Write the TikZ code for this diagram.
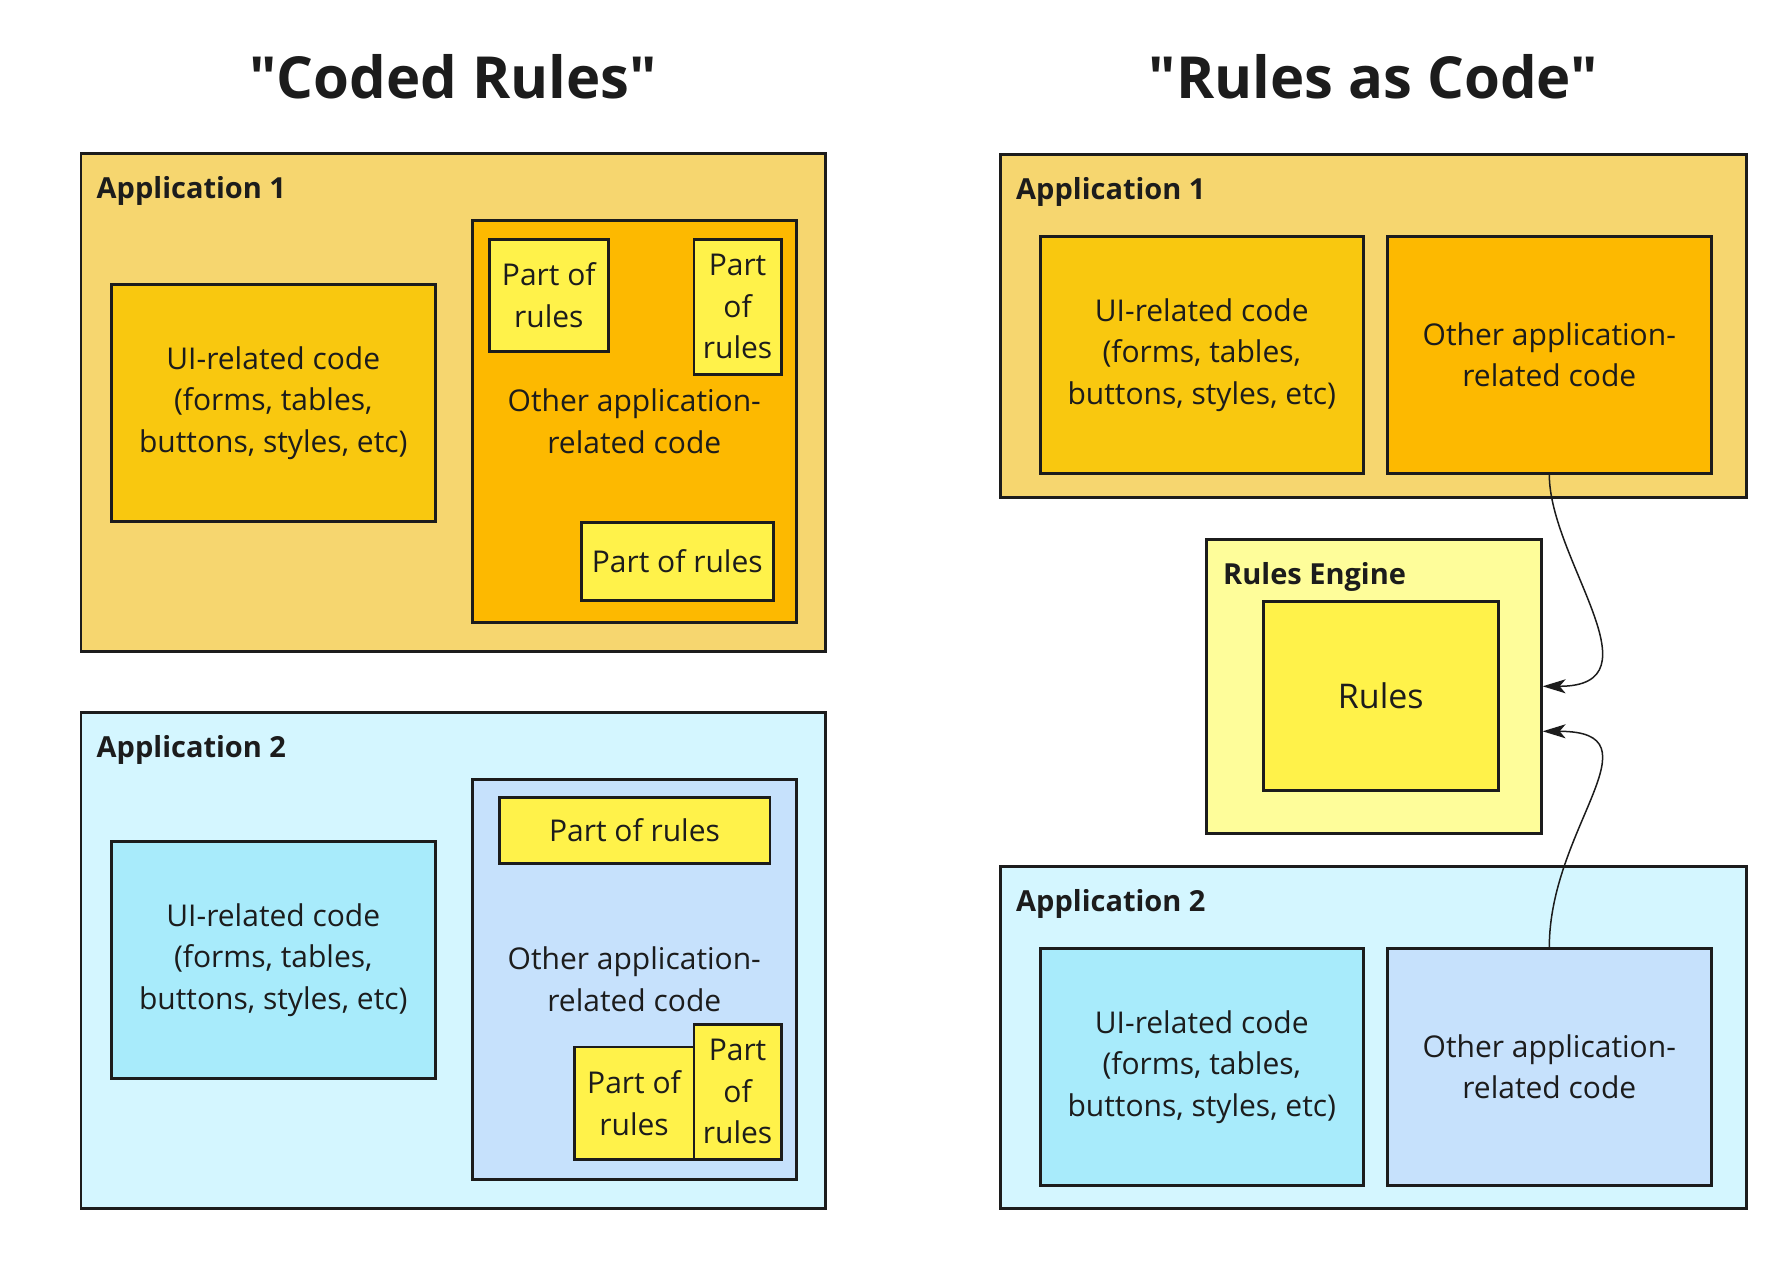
\documentclass[tikz,border=0pt]{standalone}
\usepackage{fontspec}
\setmainfont{Open Sans}[Ligatures=TeXOff]
\usetikzlibrary{arrows.meta}
\definecolor{appyellow}{HTML}{F6D66F}
\definecolor{uiyellow}{HTML}{F9C80F}
\definecolor{otherorange}{HTML}{FDB900}
\definecolor{ruleyellow}{HTML}{FFF24A}
\definecolor{engineyellow}{HTML}{FEFD9A}
\definecolor{appblue}{HTML}{D4F6FF}
\definecolor{uiblue}{HTML}{A8EBFB}
\definecolor{otherblue}{HTML}{C6E1FC}
\definecolor{ink}{HTML}{1C1C1C}

\begin{document}
\begin{tikzpicture}[x=1pt, y=-1pt,
    frame/.style={draw=ink, line width=2.6pt, inner sep=0pt, anchor=north west},
    box/.style={draw=ink, line width=2.6pt, inner sep=0pt, anchor=north west, align=center, text=ink, font=\fontsize{30}{41.5}\selectfont},
    framelabel/.style={anchor=base west, inner sep=0pt, text=ink, font=\fontsize{29}{34}\selectfont\bfseries},
    heading/.style={anchor=base, inner sep=0pt, text=ink, font=\fontsize{58}{70}\selectfont\bfseries},
    link/.style={draw=ink, line width=1.5pt, -{Stealth[length=23pt, width=14pt, inset=6pt]}}]
    \useasboundingbox (0,0) rectangle (1780,1263);
    % "Coded Rules", application 1
    \node[frame, fill=appyellow, minimum width=744.5pt, minimum height=498pt] (lA1) at (79.5,152) {};
    \node[framelabel] (lA1t) at ([xshift=17pt, yshift=-46pt]lA1.north west) {Application 1};
    \node[box, fill=uiyellow, minimum width=324pt, minimum height=237pt] (lA1ui) at (110,283) {UI-related code\\(forms, tables,\\buttons, styles, etc)};
    \node[box, fill=otherorange, minimum width=324pt, minimum height=402pt] (lA1oth) at (471,219) {Other application-\\related code};
    \node[box, fill=ruleyellow, minimum width=119pt, minimum height=112pt] (lA1p1) at (488,238) {Part of\\rules};
    \node[box, fill=ruleyellow, minimum width=87.5pt, minimum height=135pt] (lA1p2) at (692.5,238) {Part\\of\\rules};
    \node[box, fill=ruleyellow, minimum width=192pt, minimum height=78pt] (lA1p3) at (580,521) {Part of rules};
    % "Coded Rules", application 2
    \node[frame, fill=appblue, minimum width=744.5pt, minimum height=496pt] (lA2) at (79.5,711) {};
    \node[framelabel] (lA2t) at ([xshift=17pt, yshift=-46pt]lA2.north west) {Application 2};
    \node[box, fill=uiblue, minimum width=324pt, minimum height=237pt] (lA2ui) at (110,840) {UI-related code\\(forms, tables,\\buttons, styles, etc)};
    \node[box, fill=otherblue, minimum width=324pt, minimum height=400pt] (lA2oth) at (471,778) {Other application-\\related code};
    \node[box, fill=ruleyellow, minimum width=270.5pt, minimum height=66pt] (lA2p1) at (498,796) {Part of rules};
    \node[box, fill=ruleyellow, minimum width=119.5pt, minimum height=112.5pt] (lA2p2) at (573,1045.5) {Part of\\rules};
    \node[box, fill=ruleyellow, minimum width=87.5pt, minimum height=135pt] (lA2p3) at (692.5,1023) {Part\\of\\rules};
    % "Rules as Code"
    \node[frame, fill=appyellow, minimum width=746pt, minimum height=343pt] (rA1) at (999,153) {};
    \node[framelabel] (rA1t) at ([xshift=17pt, yshift=-46pt]rA1.north west) {Application 1};
    \node[box, fill=uiyellow, minimum width=323pt, minimum height=237pt] (rA1ui) at (1039,235) {UI-related code\\(forms, tables,\\buttons, styles, etc)};
    \node[box, fill=otherorange, minimum width=324pt, minimum height=237pt] (rA1oth) at (1386,235) {Other application-\\related code};
    \node[frame, fill=engineyellow, minimum width=335pt, minimum height=294pt] (rEng) at (1205,538) {};
    \node[framelabel] (rEngt) at ([xshift=18pt, yshift=-46pt]rEng.north west) {Rules Engine};
    \node[box, fill=ruleyellow, minimum width=235pt, minimum height=189pt, font=\fontsize{34}{41.5}\selectfont] (rRules) at (1262,600) {Rules};
    \node[frame, fill=appblue, minimum width=746pt, minimum height=342pt] (rA2) at (999,865) {};
    \node[framelabel] (rA2t) at ([xshift=17pt, yshift=-46pt]rA2.north west) {Application 2};
    \node[box, fill=uiblue, minimum width=323pt, minimum height=237pt] (rA2ui) at (1039,947) {UI-related code\\(forms, tables,\\buttons, styles, etc)};
    \node[box, fill=otherblue, minimum width=324pt, minimum height=237pt] (rA2oth) at (1386,947) {Other application-\\related code};
    % headings
    \node[heading] (hCoded) at ([yshift=54pt]lA1.north) {"Coded Rules"};
    \node[heading] (hAsCode) at ([yshift=54pt]rA1.north) {"Rules as Code"};
    % links into the engine
    \coordinate (engIn) at ([yshift=-45pt]rEng.east);
    \draw[link] (rA1oth.south) .. controls +(0,85) and +(120,0) .. (rEng.east);
    \draw[link] (rA2oth.north) .. controls +(0,-120) and +(120,0) .. (engIn);
\end{tikzpicture}
\end{document}
